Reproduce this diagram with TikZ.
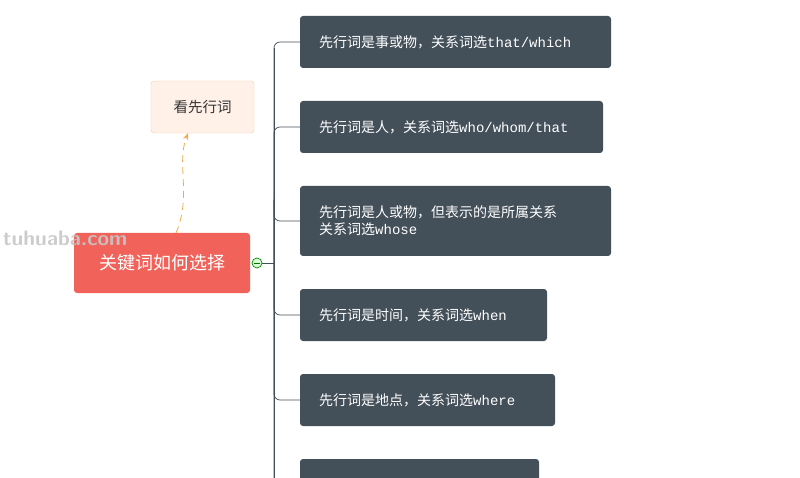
\documentclass[tikz,border=0pt]{standalone}
\usepackage{fontspec}
\setmainfont{Noto Sans CJK SC}
\setmonofont{Liberation Mono}
\usetikzlibrary{arrows.meta}
\definecolor{dark}{HTML}{434F59}
\definecolor{redc}{HTML}{F0625A}
\definecolor{lt}{HTML}{FFF0E8}
\definecolor{ltb}{HTML}{F8CBAA}
\definecolor{orng}{HTML}{F5A94E}
\begin{document}
\begin{tikzpicture}[x=1pt,y=-1pt,
 leaf/.style={fill=dark,rounded corners=3pt,draw=none},
 lt/.style={text=white,font=\fontsize{14}{17}\selectfont,anchor=west,align=left,inner sep=0pt},
 br/.style={draw=dark,line width=0.7pt,rounded corners=6pt}]
\useasboundingbox (0,0) rectangle (800,478);
\clip (0,0) rectangle (800,478);
\draw[br] (274,478) -- (274,48) coordinate (s);
\foreach \y in {42,127,221,315,400,485}{\draw[br] (274,200) -- (274,\y) -- (300,\y);}
\draw[dark,line width=0.7pt] (262,263) -- (274,263);
\fill[leaf] (300,16) rectangle (611,68);
\node[lt] (b1) at (319,42) {先行词是事或物，关系词选\texttt{that/which}};
\fill[leaf] (300,101) rectangle (603,153);
\node[lt] (b2) at (319,127) {先行词是人，关系词选\texttt{who/whom/that}};
\fill[leaf] (300,186) rectangle (611,256);
\node[lt] (b3) at (319,221) {先行词是人或物，但表示的是所属关系\\关系词选\texttt{whose}};
\fill[leaf] (300,289) rectangle (547,341);
\node[lt] (b4) at (319,315) {先行词是时间，关系词选\texttt{when}};
\fill[leaf] (300,374) rectangle (555,426);
\node[lt] (b5) at (319,400) {先行词是地点，关系词选\texttt{where}};
\fill[leaf] (300,459) rectangle (539,511);
\fill[redc,rounded corners=3pt] (74,233) rectangle (250,293);
\node[text=white,font=\fontsize{18}{20}\selectfont] (c) at (162,263) {关键词如何选择};
\draw[fill=lt,draw=ltb,rounded corners=3pt] (151,81) rectangle (254,133);
\node[font=\fontsize{14.5}{16}\selectfont,text=black!80] (t) at (202.5,107) {看先行词};
\draw[orng,line width=0.8pt,dash pattern=on 7pt off 5pt,-{Stealth[length=7pt]}] (176,233) .. controls (192,195) and (176,165) .. (188,133);
\draw[draw=green!55!black,fill=green!15,line width=0.7pt] (257,263) circle (5);
\draw[green!45!black,line width=0.8pt] (254,263) -- (260,263);
\node[font=\sffamily\bfseries\fontsize{21}{21}\selectfont,text=black!22,opacity=0.9,anchor=west,inner sep=0pt] (wm) at (3,238) {tuhuaba.com};
\end{tikzpicture}
\end{document}
